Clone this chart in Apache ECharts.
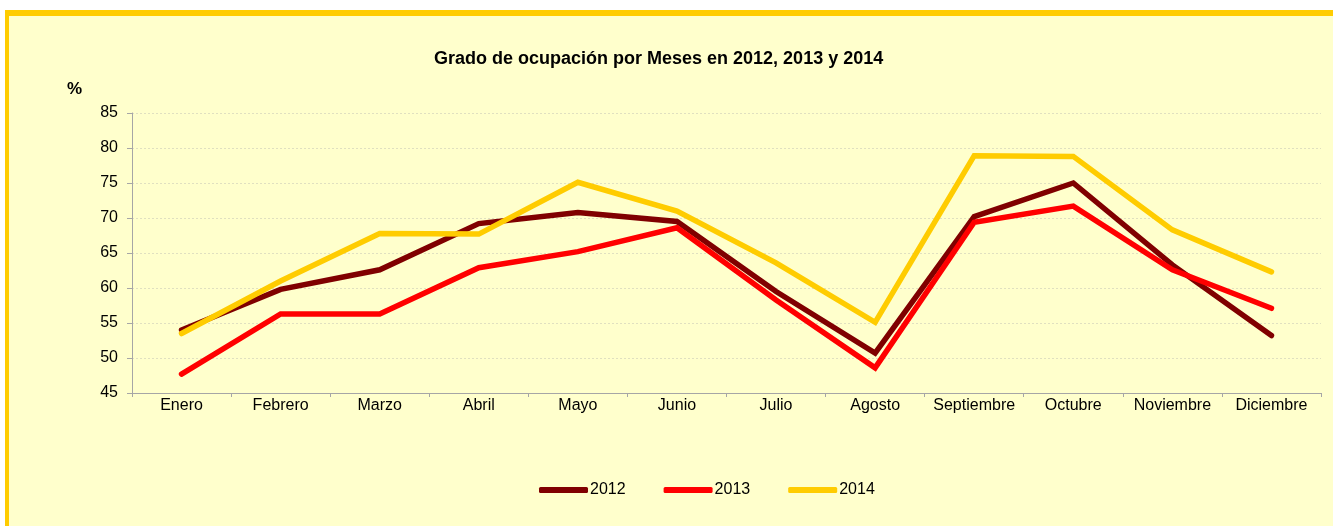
<!DOCTYPE html>
<html><head><meta charset="utf-8">
<script src="https://cdn.jsdelivr.net/npm/echarts@6/dist/echarts.min.js"></script>
<style>
html,body{margin:0;padding:0;background:#fff;width:1333px;height:526px;overflow:hidden;}
#frame{position:absolute;left:5px;top:10px;width:1328px;height:516px;background:#ffffcc;border-top:6px solid #ffcc00;border-left:4px solid #ffcc00;box-sizing:border-box;}
#chart{position:absolute;left:0;top:0;width:1333px;height:526px;}
</style></head>
<body>
<div id="frame"></div>
<div id="chart"></div>
<script>
const categories = ['Enero','Febrero','Marzo','Abril','Mayo','Junio','Julio','Agosto','Septiembre','Octubre','Noviembre','Diciembre'];
const values2012 = [54.0, 59.8, 62.6, 69.2, 70.8, 69.5, 59.5, 50.7, 70.2, 75.0, 63.3, 53.2];
const values2013 = [47.7, 56.3, 56.3, 62.9, 65.2, 68.6, 58.3, 48.6, 69.4, 71.7, 62.6, 57.1];
const values2014 = [53.5, 61.0, 67.8, 67.7, 75.1, 71.0, 63.6, 55.1, 78.9, 78.8, 68.3, 62.3];
const yTicks = {min: 45, max: 85, interval: 5};

const chart = echarts.init(document.getElementById('chart'), null, {renderer: 'canvas'});
const font = 'Liberation Sans, Arial, sans-serif';
function mk(name, data, color) {
  return {name, type: 'line', data, showSymbol: false, symbol: 'none',
    lineStyle: {color, width: 5.5, cap: 'round', join: 'miter'}, itemStyle: {color}, animation: false};
}
chart.setOption({
  backgroundColor: 'transparent',
  animation: false,
  title: [
    {text: 'Grado de ocupación por Meses en 2012, 2013 y 2014', left: 429, top: 45,
     textStyle: {fontFamily: font, fontSize: 18, fontWeight: 'bold', color: '#000'}},
    {text: '%', left: 62, top: 76, textStyle: {fontFamily: font, fontSize: 17, fontWeight: 'bold', color: '#000'}}
  ],
  legend: {
    left: 534, top: 477, itemWidth: 49, itemHeight: 6, itemGap: 38, icon: 'roundRect',
    textStyle: {fontFamily: font, fontSize: 16, color: '#000', padding: [0, 0, 0, -3]},
    data: ['2012', '2013', '2014']
  },
  grid: {left: 132, right: 12, top: 113, bottom: 133, containLabel: false},
  xAxis: {
    type: 'category', data: categories, boundaryGap: true,
    axisLine: {lineStyle: {color: '#a6a6a6', width: 1}},
    axisTick: {show: true, length: 4, lineStyle: {color: '#a6a6a6'}},
    axisLabel: {fontFamily: font, fontSize: 16, color: '#000', margin: 5, interval: 0},
    splitLine: {show: false}
  },
  yAxis: {
    type: 'value', min: yTicks.min, max: yTicks.max, interval: yTicks.interval,
    axisLine: {show: true, lineStyle: {color: '#a6a6a6', width: 1}},
    axisTick: {show: true, length: 5, lineStyle: {color: '#a6a6a6'}},
    axisLabel: {fontFamily: font, fontSize: 16, color: '#000', margin: 14},
    splitLine: {show: true, lineStyle: {color: '#e0e0c0', width: 1, type: [2, 2]}}
  },
  series: [
    mk('2012', values2012, '#800000'),
    mk('2013', values2013, '#ff0000'),
    mk('2014', values2014, '#ffcc00')
  ]
});
</script>
</body></html>
